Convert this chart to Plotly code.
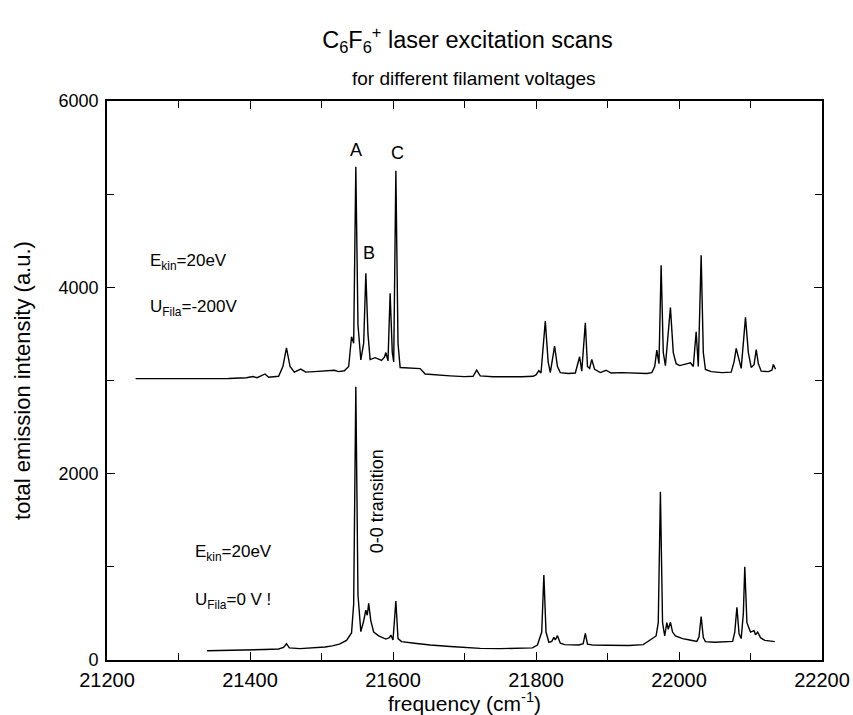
import plotly.graph_objects as go

# Upper scan: filament at -200 V (frequency in cm^-1, intensity in a.u.)
upper_freq = [
    21240, 21300, 21370, 21395, 21404, 21410, 21416, 21421, 21426, 21440,
    21446, 21451, 21456, 21462, 21471, 21478, 21490, 21500, 21510, 21518,
    21524, 21532, 21538, 21542, 21545, 21548, 21551, 21555, 21559, 21562,
    21565, 21568, 21575, 21584, 21588, 21590, 21593, 21596, 21599, 21601,
    21604, 21607, 21610, 21620, 21630, 21638, 21645, 21660, 21680, 21700,
    21712, 21717, 21722, 21740, 21760, 21780, 21796, 21800, 21804, 21807,
    21813, 21817, 21820, 21826, 21830, 21834, 21845, 21855, 21861, 21864,
    21869, 21872, 21875, 21878, 21882, 21890, 21898, 21905, 21920, 21940,
    21955, 21962, 21966, 21969, 21972, 21975, 21978, 21981, 21988, 21992,
    21996, 22001, 22008, 22016, 22020, 22024, 22027, 22031, 22034, 22037,
    22045, 22060, 22073, 22077, 22080, 22084, 22087, 22093, 22097, 22101,
    22105, 22108, 22111, 22115, 22125, 22130, 22132, 22135,
]
upper_int = [
    3020, 3020, 3022, 3030, 3042, 3030, 3050, 3070, 3035, 3045,
    3150, 3350, 3150, 3090, 3122, 3090, 3095, 3100, 3098, 3110,
    3095, 3105, 3150, 3470, 3400, 5293, 3600, 3220, 3400, 4150,
    3500, 3225, 3245, 3215, 3250, 3300, 3210, 3935, 3300, 3200,
    5250, 3400, 3140, 3135, 3130, 3128, 3070, 3060, 3050, 3042,
    3045, 3112, 3050, 3040, 3038, 3040, 3045, 3060, 3105, 3080,
    3637, 3200, 3085, 3370, 3150, 3085, 3075, 3080, 3255, 3100,
    3620, 3150, 3130, 3226, 3120, 3085, 3110, 3080, 3085, 3080,
    3075, 3085, 3150, 3326, 3180, 4238, 3300, 3160, 3784, 3300,
    3180, 3160, 3175, 3190, 3150, 3523, 3150, 4345, 3300, 3118,
    3095, 3085, 3090, 3200, 3344, 3220, 3130, 3677, 3300, 3140,
    3170, 3333, 3180, 3100, 3095, 3110, 3172, 3120,
]

# Lower scan: filament at 0 V
lower_freq = [
    21340, 21360, 21380, 21400, 21420, 21440, 21447, 21451, 21455, 21470,
    21490, 21505, 21515, 21525, 21535, 21542, 21545, 21548, 21551, 21555,
    21559, 21562, 21564, 21566, 21569, 21573, 21580, 21590, 21595, 21597,
    21600, 21604, 21607, 21612, 21630, 21652, 21680, 21700, 21722, 21750,
    21780, 21795, 21802, 21808, 21811, 21814, 21818, 21822, 21825, 21827,
    21830, 21834, 21840, 21860, 21866, 21869, 21872, 21880, 21900, 21930,
    21950, 21960, 21968, 21971, 21974, 21977, 21980, 21983, 21985, 21988,
    21991, 21995, 22005, 22015, 22025, 22028, 22031, 22034, 22037, 22050,
    22065, 22075, 22078, 22081, 22084, 22087, 22090, 22092, 22095, 22100,
    22105, 22107, 22110, 22114, 22120, 22128, 22134,
]
lower_int = [
    100, 102, 105, 110, 112, 118, 135, 175, 130, 122,
    128, 140, 152, 170, 210, 290, 600, 2933, 700, 305,
    420, 536, 480, 608, 420, 300, 260, 225, 240, 268,
    215, 633, 230, 197, 180, 161, 145, 135, 125, 122,
    125, 130, 160, 300, 912, 300, 190, 200, 243, 215,
    261, 180, 165, 161, 175, 286, 170, 160, 158, 155,
    165, 220, 258, 400, 1806, 400, 260, 400, 330, 405,
    300, 258, 230, 215, 200, 250, 465, 240, 197, 190,
    195, 200, 300, 565, 280, 230, 500, 1001, 400, 300,
    315, 270, 300, 240, 210, 200, 197,
]

# Peak labels for the upper scan
peak_labels = ["A", "B", "C"]
peak_label_x = [21548, 21566, 21606]
peak_label_y = [5475, 4370, 5440]

FONT = "Liberation Sans, Arial, sans-serif"

fig = go.Figure()
fig.add_trace(go.Scatter(x=upper_freq, y=upper_int, mode="lines",
                         line=dict(color="black", width=1.4), showlegend=False))
fig.add_trace(go.Scatter(x=lower_freq, y=lower_int, mode="lines",
                         line=dict(color="black", width=1.4), showlegend=False))

annotations = []
for t, x, y in zip(peak_labels, peak_label_x, peak_label_y):
    annotations.append(dict(x=x, y=y, xref="x", yref="y", text=t, showarrow=False,
                            font=dict(size=18)))

# Measurement conditions beside each scan
annotations += [
    dict(x=21258, y=4270, xref="x", yref="y", xanchor="left", showarrow=False,
         text="E<sub>kin</sub>=20eV", font=dict(size=17)),
    dict(x=21258, y=3780, xref="x", yref="y", xanchor="left", showarrow=False,
         text="U<sub>Fila</sub>=-200V", font=dict(size=17)),
    dict(x=21320, y=1150, xref="x", yref="y", xanchor="left", showarrow=False,
         text="E<sub>kin</sub>=20eV", font=dict(size=17)),
    dict(x=21320, y=630, xref="x", yref="y", xanchor="left", showarrow=False,
         text="U<sub>Fila</sub>=0 V !", font=dict(size=17)),
    dict(x=21577, y=1700, xref="x", yref="y", showarrow=False, textangle=-90,
         text="0-0 transition", font=dict(size=18)),
    dict(x=0.513, y=1.041, xref="paper", yref="paper", yanchor="middle",
         showarrow=False, text="for different filament voltages", font=dict(size=19)),
]

fig.update_layout(
    width=853, height=715,
    margin=dict(l=107, r=31, t=101, b=55),
    paper_bgcolor="white", plot_bgcolor="white",
    font=dict(family=FONT, color="black", size=18),
    title=dict(text="C<sub>6</sub>F<sub>6</sub><sup>+</sup> laser excitation scans",
               x=0.548, xanchor="center", y=0.944, yanchor="middle",
               font=dict(size=23.5)),
    annotations=annotations,
)

fig.update_xaxes(
    range=[21200, 22200], tickmode="linear", tick0=21200, dtick=200,
    tickformat="d", tickfont=dict(size=20), ticklabelstandoff=1,
    ticks="inside", ticklen=8, tickwidth=1.3, tickcolor="black",
    minor=dict(dtick=100, ticks="inside", ticklen=7, tickwidth=1.3, tickcolor="black"),
    showline=True, linecolor="black", linewidth=1.6, mirror="ticks",
    showgrid=False, zeroline=False, automargin=False,
    title=dict(text="frequency (cm<sup>-1</sup>)", standoff=1, font=dict(size=21)),
)
fig.update_yaxes(
    range=[0, 6000], tickmode="linear", tick0=0, dtick=2000,
    tickformat="d", tickfont=dict(size=18), ticklabelstandoff=3,
    ticks="inside", ticklen=8, tickwidth=1.3, tickcolor="black",
    minor=dict(dtick=1000, ticks="inside", ticklen=7, tickwidth=1.3, tickcolor="black"),
    showline=True, linecolor="black", linewidth=1.6, mirror="ticks",
    showgrid=False, zeroline=False, automargin=False,
    title=dict(text="total emission intensity (a.u.)", standoff=22, font=dict(size=22)),
)

fig.write_html("out.html")
